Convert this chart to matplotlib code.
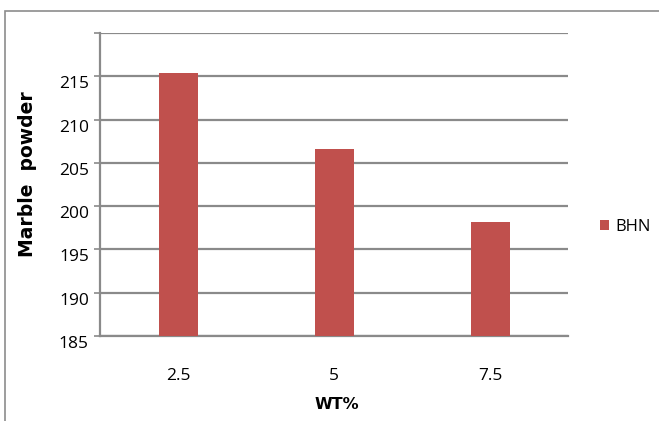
import matplotlib.pyplot as plt
from matplotlib.patches import Rectangle

# data
wt_labels = ["2.5", "5", "7.5"]
bhn = [215.4, 206.6, 198.2]
ytick_vals = [185, 190, 195, 200, 205, 210, 215]

bar_color = "#C0504D"
grid_color = "#8A8A8A"

fig = plt.figure(figsize=(6.59, 4.21), dpi=100)
W, H = 659, 421

# outer chart frame (bottom and right run off the picture)
fig.patches.append(Rectangle((5 / W, -0.1), 1.2, 1 - 11 / H + 0.1,
                             transform=fig.transFigure, fill=False,
                             edgecolor="#8C8C8C", lw=1.2))

ax = fig.add_axes([100 / W, 1 - 336 / H, 468 / W, 303 / H])
x = list(range(len(wt_labels)))
ax.bar(x, bhn, width=0.25, color=bar_color, zorder=3, label="BHN")

ax.set_xlim(-0.5, len(wt_labels) - 0.5)
ax.set_ylim(185, 220)
ax.set_yticks(ytick_vals + [220])
ax.set_yticklabels([str(v) for v in ytick_vals] + [""],
                   fontsize=12.5, family="Open Sans")
# labels sit a little below their grid lines in the original
for lab in ax.get_yticklabels():
    lab.set_verticalalignment("top")
ax.yaxis.grid(True, color=grid_color, lw=1.6, zorder=0)
ax.tick_params(axis="y", length=4, width=1.2, color=grid_color, pad=4)

ax.set_xticks(x)
ax.set_xticklabels(wt_labels, fontsize=12.5, family="Open Sans")
ax.tick_params(axis="x", length=0, pad=23)

for s in ["top", "right"]:
    ax.spines[s].set_visible(False)
for s in ["left", "bottom"]:
    ax.spines[s].set_color(grid_color)
    ax.spines[s].set_linewidth(1.6)

ax.set_xlabel("WT%", fontsize=11.5, fontweight="bold")
ax.xaxis.set_label_coords(0.505, -0.2)
ax.set_ylabel("Marble  powder", fontsize=13.5, fontweight="bold")
ax.yaxis.set_label_coords(-0.135, 0.535)

ax.legend(loc="center left", bbox_to_anchor=(600 / W, 1 - 227 / H),
          bbox_transform=fig.transFigure, borderaxespad=0, borderpad=0,
          frameon=False, handlelength=0.55, handleheight=0.55,
          handletextpad=0.35, prop={"family": "Open Sans", "size": 12})

fig.savefig("out.png", dpi=100)
